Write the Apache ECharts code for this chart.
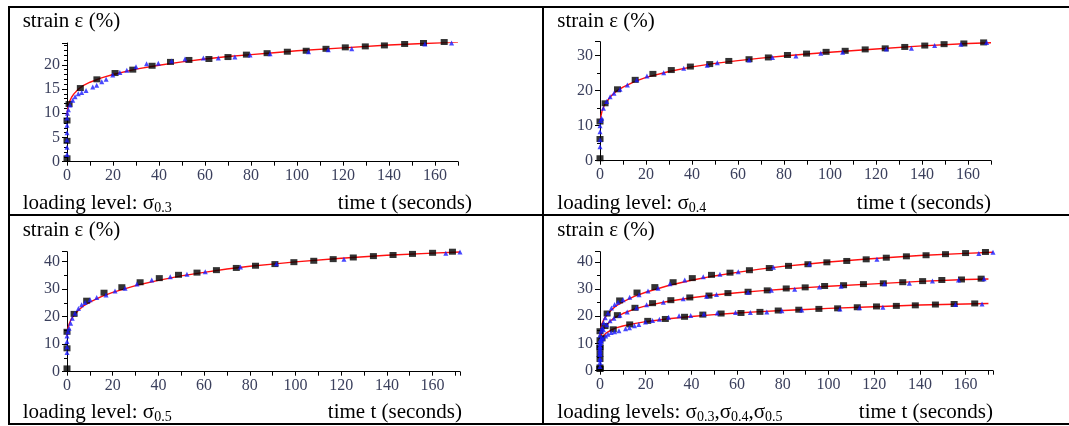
<!DOCTYPE html>
<html>
<head>
<meta charset="utf-8">
<script src="https://cdn.jsdelivr.net/npm/echarts@6/dist/echarts.min.js"></script>
<style>
html,body{margin:0;padding:0;background:#fff}
#chart{width:1069px;height:426px}
</style>
</head>
<body>
<div id="chart"></div>
<script>
// values, pairs of [time t (s), strain (%)]
// red = fitted curve, black squares and blue triangles = measured

var fit03 = [[0,9.5],[0.3,11],[1,12.3],[2,13.3],[3,14],[5,15],[7,15.7],[10,16.4],[15,17.3],[20,18],[30,19.1],[40,19.9],[50,20.6],[60,21.2],[70,21.7],[80,22.1],[90,22.5],[100,22.9],[120,23.5],[140,24.1],[160,24.5],[170,24.7]];
var sq03 = [[0,0.7],[0,4.3],[0,8.5],[0.9,11.9],[5.8,15.2],[13,17.0],[20.9,18.3],[28.6,19.0],[37,19.8],[45,20.6],[53,21.0],[61.7,21.2],[70,21.6],[78,22.1],[87,22.4],[95.8,22.7],[104,22.9],[112.6,23.3],[121,23.6],[129.7,23.8],[138,24.0],[146.8,24.3],[155,24.5],[164,24.7]];
var tri03 = [[0,1.5],[0,3],[0,4.5],[0,6],[0,7.5],[0,9],[0.2,10],[0.6,10.7],[1.3,11.7],[2.5,12.7],[3.5,13.4],[4.9,14.0],[6.4,14.3],[8.3,14.7],[11.2,15.4],[12.9,15.8],[15.1,16.5],[17,17.0],[19.9,17.9],[23,18.4],[26,18.9],[30,19.6],[34.6,20.2],[39.7,20.3],[45.5,20.8],[51.3,21.2],[59.3,21.4],[65.8,21.4],[73,21.6],[79.6,22.0],[88.3,22.3],[105,22.7],[113.6,23.1],[123.8,23.3],[155.6,24.3],[167.2,24.5]];

var fit04 = [[0,11],[0.5,13],[1,14.5],[2,16],[3,17],[5,18.6],[7,19.8],[10,21],[15,22.6],[20,23.8],[30,25.5],[40,26.8],[50,27.8],[60,28.6],[70,29.3],[80,29.9],[90,30.5],[100,31],[120,31.9],[140,32.8],[160,33.5],[170,33.7]];
var sq04 = [[0,0.7],[0,6.2],[0,11.2],[2.2,16.4],[7.6,20.4],[15.3,23.1],[23,24.8],[31,25.9],[39.3,26.9],[47.7,27.6],[56,28.5],[64.8,29.0],[73.2,29.5],[81.5,30.2],[89.8,30.6],[98.3,31.1],[106.6,31.4],[115.3,31.8],[124,32.1],[132.5,32.5],[141.2,32.9],[149.6,33.3],[158.2,33.5],[166.8,33.8]];
var tri04 = [[0,4],[0,6],[0,8.3],[0,10],[0.3,11.5],[0.7,12.1],[1.5,15.0],[2.9,16.9],[4.4,18.3],[6.1,19.3],[8.7,20.4],[11.9,21.6],[16,23.1],[20.4,24.2],[27.7,25.1],[36.4,26.4],[46.6,27.3],[51,28.0],[64.8,28.8],[75,29.5],[85.2,29.9],[96,30.7],[105.5,31.0],[124.5,31.9],[135.4,32.1],[145.5,32.9],[156.9,33.3],[168.1,33.8]];

var fit05 = [[0,13],[0.5,16],[1,17.5],[2,19.3],[3,20.5],[5,22.3],[7,23.8],[10,25.3],[15,27.3],[20,28.8],[30,31.3],[40,33.2],[50,34.8],[60,36.1],[70,37.3],[80,38.3],[90,39.1],[100,39.9],[120,41.2],[140,42.3],[160,43.1],[172,43.5]];
var sq05 = [[0,1.2],[0,8.5],[0,14.5],[3.1,21.0],[8.6,25.8],[16.2,28.7],[24,30.7],[32,32.5],[40.4,34.0],[48.8,35.2],[56.9,36.0],[65.4,36.9],[74.1,37.7],[82.5,38.5],[91,39.1],[99.3,39.8],[108,40.3],[116.5,40.9],[125.3,41.5],[134.1,42.0],[142.7,42.4],[151.2,42.8],[160,43.2],[168.7,43.6]];
var tri05 = [[0,7],[0,9],[0,11],[0,13],[0.4,14.5],[0.9,15.8],[1.6,17.6],[2.3,19.4],[3.5,21.2],[5,23.0],[6.4,24.3],[7.9,25.1],[10.1,26.1],[13,27.0],[17.1,27.9],[21,29.3],[25.4,30.3],[30.6,31.9],[37.1,33.3],[45.2,34.5],[52.5,35.4],[60.5,36.3],[75.9,38.0],[91.7,39.2],[121.2,40.9],[165.8,43.0],[172,43.5]];

var levelNames = ['0.3', '0.4', '0.5'];

var serif = '"Liberation Serif", "Times New Roman", serif';
var tickColor = '#3a3f5c';

// one entry per panel: grid box in px, axis ranges, which levels are drawn
var panels = [
    {left: 67,  top: 43,    width: 391, height: 118.7, xmax: 170, ymax: 24.5, yint: 5,  ysplit: 5, levels: [0]},
    {left: 600, top: 41.7,  width: 391, height: 119,   xmax: 170, ymax: 34,   yint: 10, ysplit: 2, levels: [1]},
    {left: 67,  top: 251.7, width: 393, height: 120,   xmax: 172, ymax: 43.6, yint: 10, ysplit: 2, levels: [2]},
    {left: 600, top: 251.7, width: 393, height: 119,   xmax: 172, ymax: 43.7, yint: 10, ysplit: 2, levels: [0, 1, 2]}
];
var fits = [fit03, fit04, fit05];
var squares = [sq03, sq04, sq05];
var triangles = [tri03, tri04, tri05];

var grids = [], xAxes = [], yAxes = [], series = [];
panels.forEach(function (p, i) {
    grids.push({left: p.left, top: p.top, width: p.width, height: p.height});
    xAxes.push({
        type: 'value', gridIndex: i, min: 0, max: p.xmax, interval: 10,
        axisLine: {onZero: false, lineStyle: {color: '#000', width: 1}},
        axisTick: {length: 4, lineStyle: {color: '#000'}},
        axisLabel: {
            margin: 6, color: tickColor, fontFamily: serif, fontSize: 16,
            formatter: function (v) { return v % 20 === 0 ? String(v) : ''; }
        },
        splitLine: {show: false}
    });
    yAxes.push({
        type: 'value', gridIndex: i, min: 0, max: p.ymax, interval: p.yint,
        axisLine: {onZero: false, lineStyle: {color: '#000', width: 1}},
        axisTick: {length: 5, lineStyle: {color: '#000'}},
        minorTick: {show: true, splitNumber: p.ysplit, length: 3, lineStyle: {color: '#000'}},
        axisLabel: {
            margin: 7, color: tickColor, fontFamily: serif, fontSize: 16,
            formatter: function (v) { return v % p.yint === 0 ? String(v) : ''; }
        },
        splitLine: {show: false}
    });
    p.levels.forEach(function (k) {
        series.push({
            type: 'line', xAxisIndex: i, yAxisIndex: i, data: fits[k],
            symbol: 'none', lineStyle: {color: '#ff1010', width: 1.4}, z: 2
        });
        series.push({
            type: 'scatter', xAxisIndex: i, yAxisIndex: i, data: squares[k],
            symbol: 'rect', symbolSize: [7, 6], itemStyle: {color: '#000'}, z: 3, clip: false
        });
        series.push({
            type: 'scatter', xAxisIndex: i, yAxisIndex: i, data: triangles[k],
            symbol: 'triangle', symbolSize: 5, itemStyle: {color: '#1a1aff'}, z: 4, clip: false
        });
    });
});

// table borders
var lineStyle = {stroke: '#000', lineWidth: 2};
var graphics = [
    {type: 'line', shape: {x1: 9, y1: 7, x2: 1069, y2: 7}, style: lineStyle},
    {type: 'line', shape: {x1: 9, y1: 215, x2: 1069, y2: 215}, style: lineStyle},
    {type: 'line', shape: {x1: 9, y1: 424, x2: 1069, y2: 424}, style: lineStyle},
    {type: 'line', shape: {x1: 9, y1: 6, x2: 9, y2: 425}, style: lineStyle},
    {type: 'line', shape: {x1: 543, y1: 6, x2: 543, y2: 425}, style: lineStyle}
];

function label(x, y, text, align) {
    return {
        type: 'text', x: x, y: y,
        style: {text: text, font: '21px ' + serif, fill: '#000', textAlign: align || 'left', textVerticalAlign: 'middle'}
    };
}
function levelLabel(x, y, prefix, idx) {
    var txt = '{m|' + prefix + '}';
    idx.forEach(function (k, j) {
        txt += (j ? '{m|,}' : '') + '{m|σ}{s|' + levelNames[k] + '}';
    });
    return {
        type: 'text', x: x, y: y,
        style: {
            text: txt, textVerticalAlign: 'middle',
            rich: {
                m: {font: '21px ' + serif, fill: '#000', lineHeight: 24, verticalAlign: 'middle'},
                s: {font: '14px ' + serif, fill: '#000', lineHeight: 16, verticalAlign: 'bottom'}
            }
        }
    };
}

var cellX = [22.7, 557.3];
var titleY = [21, 230];
var bottomY = [203.5, 412.5];
var timeRight = [472, 991, 462, 993];
panels.forEach(function (p, i) {
    var cx = cellX[i % 2], row = Math.floor(i / 2);
    graphics.push(label(cx, titleY[row], 'strain ε (%)'));
    graphics.push(label(timeRight[i], bottomY[row], 'time t (seconds)', 'right'));
    graphics.push(levelLabel(cx, bottomY[row], p.levels.length > 1 ? 'loading levels: ' : 'loading level: ', p.levels));
});

var chart = echarts.init(document.getElementById('chart'));
chart.setOption({
    animation: false,
    backgroundColor: '#fff',
    grid: grids,
    xAxis: xAxes,
    yAxis: yAxes,
    series: series,
    graphic: graphics
});
</script>
</body>
</html>
